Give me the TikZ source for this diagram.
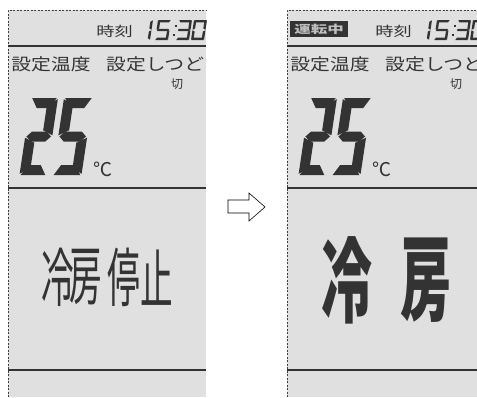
\documentclass[tikz,border=0pt]{standalone}
\usepackage{fontspec}
\newfontfamily\jp{Noto Sans CJK JP}
\tikzset{
  segfill/.style={fill=black!80},
  panelbg/.style={fill=black!12},
  sepline/.style={draw=black!80,line width=1.1pt},
  edgeline/.style={draw=black!75,line width=0.9pt,dash pattern=on 2pt off 1.5pt},
  jtext/.style={inner sep=0pt,font=\jp,text=black!80},
  arrowshape/.style={draw=black,line width=0.6pt,fill=white,line join=miter}
}
\newcommand\sgsega{\fill[segfill] (\sgG,0)--({\sgW-\sgG},0)--({\sgW-\sgG-\sgB},\sgT)--({\sgG+\sgB},\sgT)--cycle;}
\newcommand\sgsegb{\fill[segfill] (\sgW,\sgG)--(\sgW,{\sgH/2-\sgG})--({\sgW-\sgT},{\sgH/2-\sgT/2-\sgG})--({\sgW-\sgT},{\sgG+\sgB})--cycle;}
\newcommand\sgsegc{\fill[segfill] (\sgW,{\sgH/2+\sgG})--(\sgW,{\sgH-\sgG})--({\sgW-\sgT},{\sgH-\sgG-\sgB})--({\sgW-\sgT},{\sgH/2+\sgT/2+\sgG})--cycle;}
\newcommand\sgsegd{\fill[segfill] (\sgG,\sgH)--({\sgG+\sgB},{\sgH-\sgT})--({\sgW-\sgG-\sgB},{\sgH-\sgT})--({\sgW-\sgG},\sgH)--cycle;}
\newcommand\sgsege{\fill[segfill] (0,{\sgH/2+\sgG})--(\sgT,{\sgH/2+\sgT/2+\sgG})--(\sgT,{\sgH-\sgG-\sgB})--(0,{\sgH-\sgG})--cycle;}
\newcommand\sgsegf{\fill[segfill] (0,\sgG)--(\sgT,{\sgG+\sgB})--(\sgT,{\sgH/2-\sgT/2-\sgG})--(0,{\sgH/2-\sgG})--cycle;}
\newcommand\sgsegg{\fill[segfill] (\sgG,{\sgH/2})--({\sgG+\sgT/2},{\sgH/2-\sgT/2})--({\sgW-\sgG-\sgT/2},{\sgH/2-\sgT/2})--({\sgW-\sgG},{\sgH/2})--({\sgW-\sgG-\sgT/2},{\sgH/2+\sgT/2})--({\sgG+\sgT/2},{\sgH/2+\sgT/2})--cycle;}
% #1 x, #2 y, #3 W, #4 H, #5 thickness, #6 segments
\newcommand{\sevenseg}[6]{%
  \begin{scope}[shift={(#1,#2)},xslant=0.15]
    \pgfmathsetmacro\sgW{#3}\pgfmathsetmacro\sgH{#4}\pgfmathsetmacro\sgT{#5}%
    \pgfmathsetmacro\sgB{0.6*#5}\pgfmathsetmacro\sgG{0.12*#5}%
    \foreach \s in {#6}{\csname sgseg\s\endcsname}
  \end{scope}}
\newcommand{\panelcommon}{%
  \fill[panelbg] (8,10) rectangle (206,397);
  \draw[edgeline] (8,397) -- (8,10) -- (206,10);
  \draw[sepline] (8,46) -- (206,46);
  \draw[sepline] (8,188) -- (206,188);
  \draw[sepline] (8,370) -- (206,370);
  % time
  \node[jtext,font=\jp\fontsize{13.5}{13.5}\selectfont,xscale=1.35] (tlabel) at (114.5,31) {時刻};
  \sevenseg{141}{20}{12}{20}{2.4}{b,c}
  \sevenseg{158}{20}{13}{20}{2.4}{a,f,g,c,d}
  \fill[segfill] (174.5,25) rectangle (176.5,27);
  \fill[segfill] (173,34) rectangle (175,36);
  \sevenseg{179}{20}{13}{20}{2.4}{a,b,g,c,d}
  \sevenseg{194}{20}{13}{20}{2.4}{a,b,c,d,e,f}
  % set values
  \node[jtext,font=\jp\fontsize{16.5}{16.5}\selectfont,xscale=1.2] (settemp) at (51,64.5) {設定温度};
  \node[jtext,font=\jp\fontsize{16.5}{16.5}\selectfont,xscale=1.2,anchor=west] (sethum) at (106,64.5) {設定しつど};
  \node[jtext,font=\jp\fontsize{12}{12}\selectfont] (off) at (177,84) {切};
  % big 25
  \sevenseg{31}{98}{27}{77}{10}{a,b,g,e,d}
  \sevenseg{64}{98}{29}{77}{10}{a,f,g,c,d}
  \node[jtext,font=\jp\fontsize{19}{19}\selectfont] (deg) at (103,169) {℃};
}
\begin{document}
\begin{tikzpicture}[x=1pt,y=-1pt]
\useasboundingbox (0,0) rectangle (477,397);
\clip (0,0) rectangle (477,397);
% left panel
\begin{scope}[name prefix=L-]
  \panelcommon
  \node[jtext,font=\jp\fontsize{64}{64}\selectfont,xscale=0.51] (c1) at (57.5,277.5) {冷};
  \node[jtext,font=\jp\fontsize{64}{64}\selectfont,xscale=0.51] (c2) at (86,277.5) {房};
  \node[jtext,font=\jp\fontsize{64}{64}\selectfont,xscale=0.51] (c3) at (123.5,277.5) {停};
  \node[jtext,font=\jp\fontsize{64}{64}\selectfont,xscale=0.51] (c4) at (156.5,277.5) {止};
\end{scope}
% right panel
\begin{scope}[xshift=279pt,name prefix=R-]
  \panelcommon
  \fill[black!80] (11,21) rectangle (69,37);
  \node[jtext,text=black!25,font=\jp\bfseries\fontsize{11}{11}\selectfont,xscale=1.5] (run) at (40,29) {運転中};
\end{scope}
\node[jtext,font=\jp\bfseries\fontsize{93}{93}\selectfont,xscale=0.55] (R-c1) at (347,280) {冷};
\node[jtext,font=\jp\bfseries\fontsize{93}{93}\selectfont,xscale=0.55] (R-c2) at (426,280) {房};
% arrow
\draw[arrowshape] (228,200) -- (249,200) -- (249,193) -- (265,207) -- (249,221) -- (249,213) -- (228,213) -- cycle;
\end{tikzpicture}
\end{document}
